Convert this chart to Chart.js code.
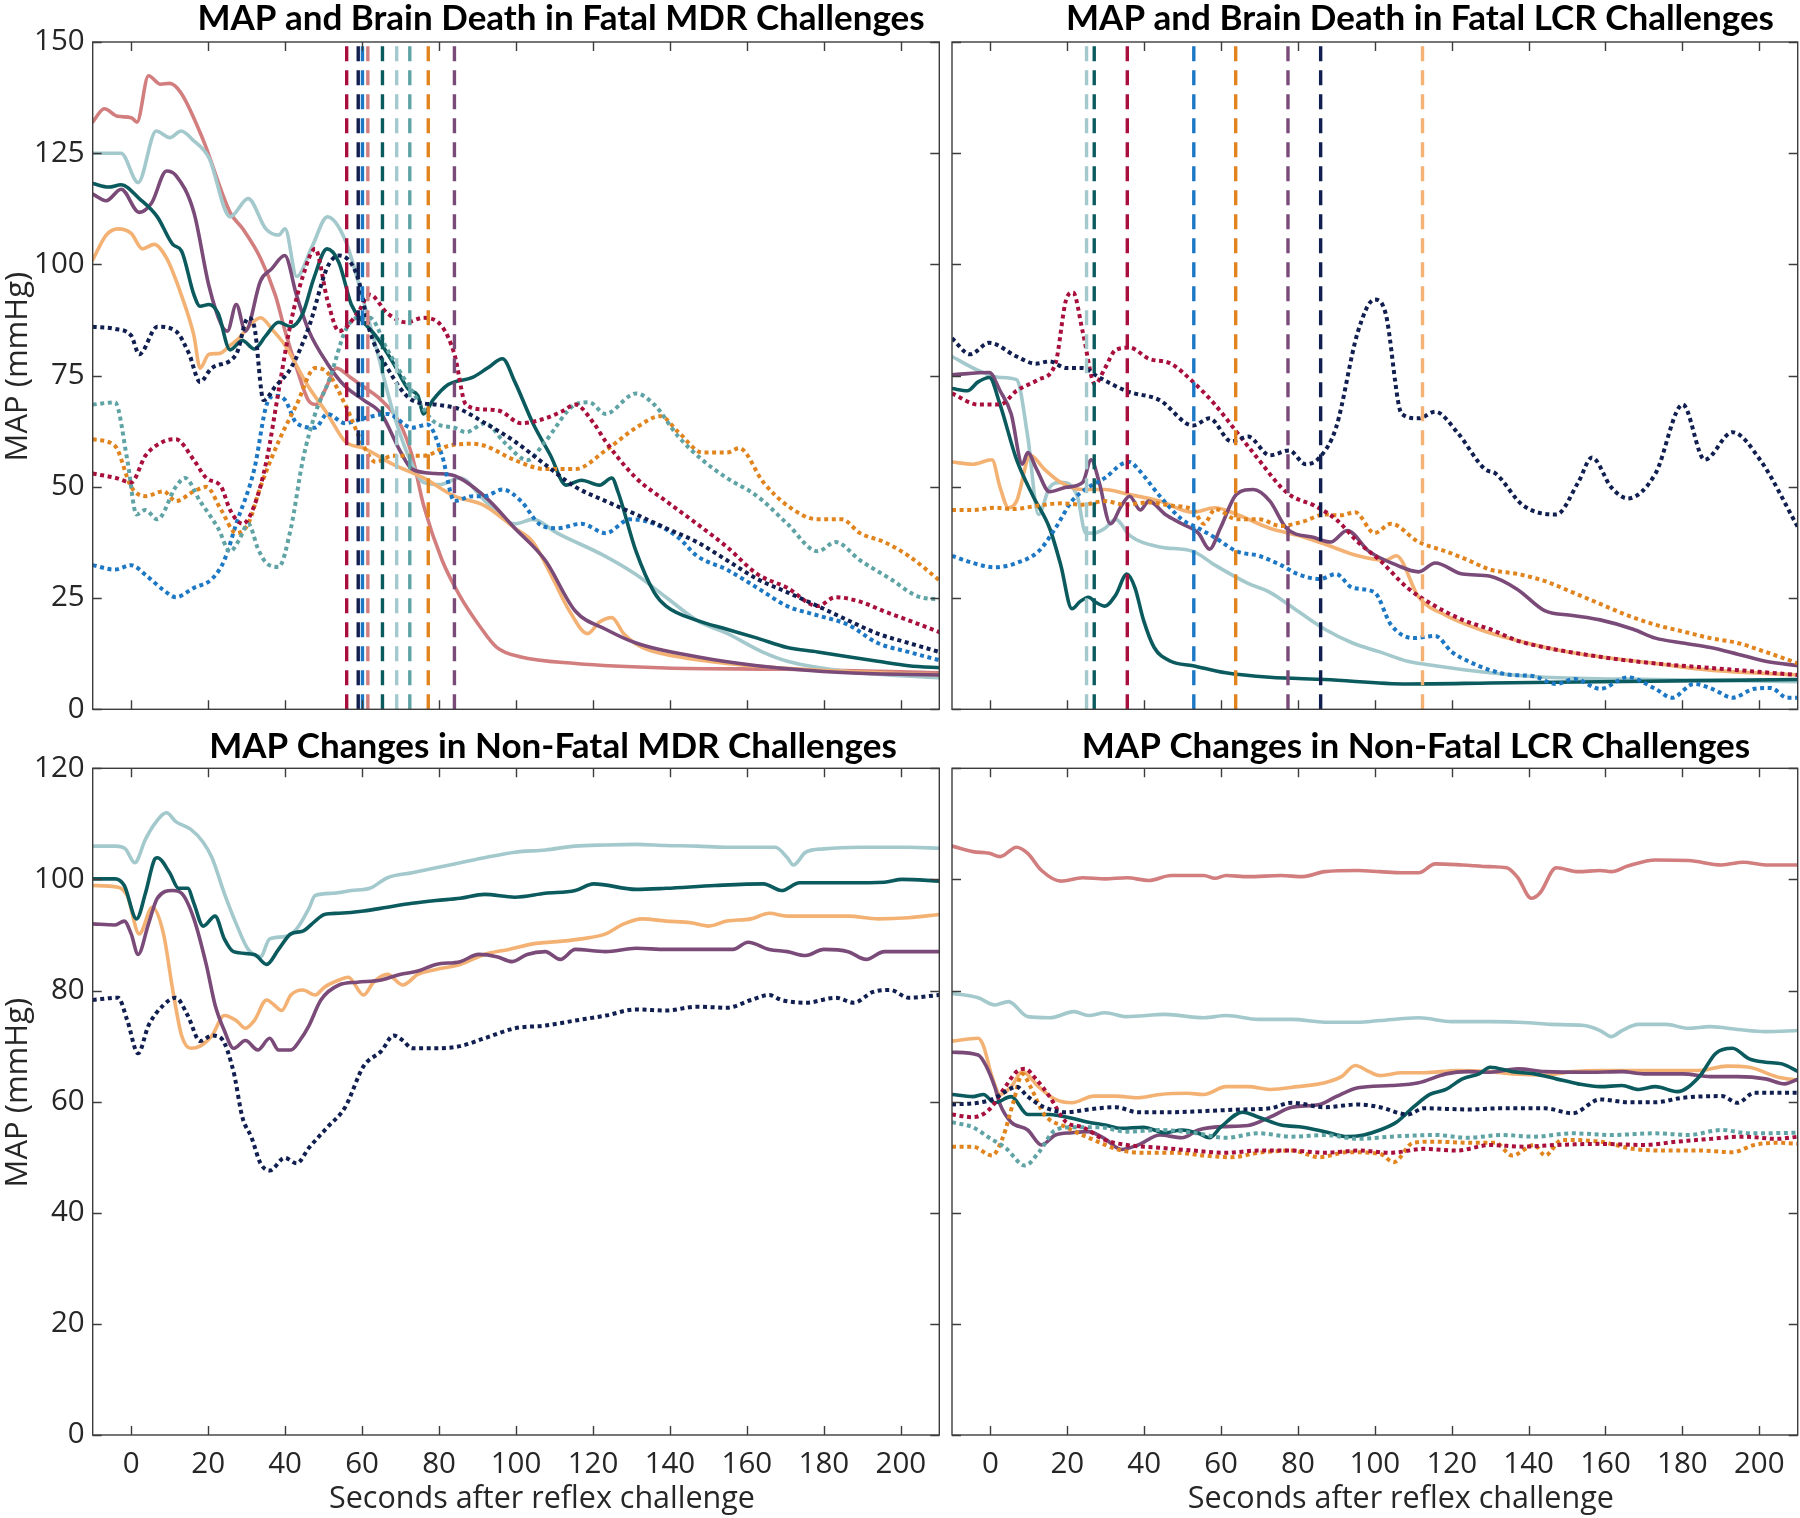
<!DOCTYPE html>
<html>
<head>
<meta charset="utf-8">
<script src="https://cdn.jsdelivr.net/npm/chart.js@4.4.1/dist/chart.umd.min.js"></script>
<style>
  html, body { margin: 0; padding: 0; background: #fff; }
  #wrap { position: relative; width: 1800px; height: 1518px; }
  #wrap canvas { position: absolute; left: 0; top: 0; }
</style>
</head>
<body>
<div id="wrap">
  <canvas id="cTL" width="1800" height="1518"></canvas>
  <canvas id="cTR" width="1800" height="1518"></canvas>
  <canvas id="cBL" width="1800" height="1518"></canvas>
  <canvas id="cBR" width="1800" height="1518"></canvas>
</div>
<script>
/** MAP traces around reflex challenges (MDR / LCR, fatal vs non-fatal) */

// ---- axes ----
const xTicks = [0, 20, 40, 60, 80, 100, 120, 140, 160, 180, 200];
const yTicksFatal = [0, 25, 50, 75, 100, 125, 150];
const yTicksNonFatal = [0, 20, 40, 60, 80, 100, 120];
const xTitle = 'Seconds after reflex challenge';
const yTitle = 'MAP (mmHg)';

const titles = {
  tl: 'MAP and Brain Death in Fatal MDR Challenges',
  tr: 'MAP and Brain Death in Fatal LCR Challenges',
  bl: 'MAP Changes in Non-Fatal MDR Challenges',
  br: 'MAP Changes in Non-Fatal LCR Challenges'
};

const COL = {
  rose: '#D27D7E', lightTeal: '#A3C9CD', darkTeal: '#0B5A5E', purple: '#7A4A78',
  lightOrange: '#F3B273', navy: '#101E50', crimson: '#A80F3C', medTeal: '#5FA3A5',
  orange: '#E2841E', blue: '#1C78C4'
};

// ---- Fatal MDR ----
const mdrFatalRose = [[-10,132],[-7,135],[-3.5,133.3],[0,133],[1.5,132],[4.5,142.4],[7.6,140.5],[10,140.7],[13,138.5],[18.7,128],[25.7,111.7],[29,108],[33.6,101.4],[37.5,93],[40,85],[43,76.7],[46,69.5],[48,68.5],[50.5,72],[53.3,76.7],[57,74.6],[60.4,72.5],[65,69.5],[69.8,64.3],[73,57],[76,45.8],[80.8,33.5],[85.6,25.2],[90.3,19],[95,13.9],[101,11.8],[115.5,10.3],[139,9.3],[170,9],[211,8.2]];
const mdrFatalLightTeal = [[-10,125],[-2.6,125],[1.8,118.4],[6.5,130],[10,128.5],[13,130],[16,128],[20.2,124],[25.7,110.7],[30.4,114.8],[35,108],[38.3,106.6],[40,108],[43,97.3],[47,104],[51,110.7],[55.6,105.5],[60.3,92],[63.5,81.8],[68.2,66.4],[73,55],[76,51],[80,50.5],[85.5,52],[92,46.8],[99.7,41.7],[104.4,42.7],[110.7,39.6],[123,34.5],[131,30.4],[139,25.2],[147,20],[155,17],[164,12.9],[170.5,10.8],[186,8.5],[211,7]];
const mdrFatalDarkTeal = [[-10,118.2],[-5.8,117.4],[-2.6,117.9],[2.1,114.8],[6.8,110.7],[10.8,104.5],[13.1,103],[16.3,93.2],[17.9,90.6],[20.2,91],[22.6,89],[25.7,80.8],[28.9,82.9],[32,81],[35,84],[38.3,87],[41.5,86],[44.6,89],[47.5,97],[50.9,103.5],[54,100.4],[57.2,91],[60.4,87],[63.5,84],[68.2,77.7],[72,72],[74.5,70.5],[76,66.4],[78.4,69.5],[82.4,73],[88.7,74.6],[92.6,76.7],[96.5,78.8],[99.7,73.6],[104.4,64.3],[109,57],[113,50.4],[117,51.5],[121.7,50.4],[124.9,52],[126.5,48.9],[131.2,35.5],[135.9,26.3],[139,23.2],[147,20],[154.8,18],[162.7,16],[170.5,13.9],[178.4,12.9],[186.3,11.8],[194,10.8],[202,9.8],[211,9.3]];
const mdrFatalPurple = [[-10,115.8],[-6.5,114.3],[-2.6,116.9],[2.1,111.7],[5.3,113.8],[9.2,121],[11.6,120],[16.3,111.7],[20.2,95.2],[23.4,86.5],[25,85],[27.3,91],[29.7,85],[33.6,96.3],[36.5,99],[39.9,102],[43,93],[46.2,85],[51,77.7],[55.6,72.6],[60.4,69.5],[65,66.4],[69.8,58.2],[73,54],[79.2,53],[84,52.5],[91.8,47.9],[99.7,40.7],[107.6,33.5],[115.4,22.1],[123.3,18],[131.2,14.9],[147,11.8],[162.7,9.8],[186,8.2],[211,7.7]];
const mdrFatalLightOrange = [[-10,101],[-6.5,106.6],[-3.4,108],[0,107],[2.9,103.5],[6,104.5],[9.2,101.4],[13,93.2],[16.3,84],[17.9,76.7],[20.2,79.8],[23,80],[25.7,81.8],[28,83.4],[30.5,86],[33.6,88],[37,85],[40,81.8],[46,72.6],[51,66.4],[55.6,60.2],[60.4,58.7],[68.2,55],[76,52],[84,47.9],[91.8,45.8],[99.7,40.7],[104.4,37.6],[109,30.4],[113.9,22.1],[118.6,17],[121.7,19.6],[124.9,20.6],[128,17],[132.8,13.9],[142.2,11.8],[154.8,10.3],[178.4,8.8],[211,7.7]];
const mdrFatalNavy = [[-10,86],[-4.2,85.5],[0,84],[2.1,79.8],[6.8,86],[11.6,85],[15,80],[17.9,73.6],[20.9,76.7],[27.3,79.8],[30.4,88],[32,86],[34.4,69.5],[37.5,72.6],[41.5,76.7],[46.2,86],[51,99.4],[54,102],[58.8,97.3],[62,85],[66.6,76.7],[73,69.5],[79.2,68.5],[85.5,67.4],[92,64.3],[99.7,60.2],[107.6,55],[115.4,50],[123.3,46.8],[131.2,43.8],[139,40.7],[147,37.6],[154.8,33.5],[162.7,29.3],[170.5,26.3],[178.4,23.2],[186.3,20],[194,17],[202,14.9],[210,12.9]];
const mdrFatalCrimson = [[-10,53],[-4,52],[0,51],[3.7,57],[8.4,60.2],[11.6,60.7],[16.3,56],[19.5,52],[23.4,50],[25.7,44.8],[29,41.7],[32,45.8],[35.2,56],[38.3,71.5],[41.5,87],[44.6,97.3],[47.8,103.5],[51,92],[54,85],[58.8,89],[62,93.2],[66.6,89],[71.4,87],[76,88],[80.8,86],[84,79.8],[87,68.5],[91.8,67.4],[96,67],[101.3,64.3],[107.6,65.4],[112,67],[115.4,68.5],[120.2,64.3],[123.3,60.2],[131.2,52],[139,46.8],[147,41.7],[154.8,36.5],[162.7,30.4],[170.5,27.3],[178.4,23.2],[183,25.2],[189.4,24.2],[195.7,22],[202,20],[211,17]];
const mdrFatalMedTeal = [[-10,68.5],[-4.2,69],[-1,56],[1.4,43.8],[3.7,44.8],[6.8,42.7],[11.6,50],[14,52],[17.9,46.8],[22.6,40.7],[25.7,35.5],[28,38],[30.4,41.7],[33,36],[35,33],[38.3,32],[41.5,40.7],[44.6,56],[47.8,66.4],[51.7,74.6],[55.6,85],[58.8,88],[62,88],[66.6,80.8],[73,71.5],[79.2,64.3],[84,63.3],[87,62.3],[92,64.3],[97,60],[103,56],[107.6,60.2],[115.4,68.5],[119,69],[123.3,66.4],[129.6,70.5],[131.2,71],[135.9,68.5],[142.2,61.3],[148.5,56],[154.8,52],[162.7,47.9],[170.5,41.7],[178.4,35.5],[183,37.6],[189.4,33.5],[197.3,29.3],[205,25.2],[211,24.7]];
const mdrFatalOrange = [[-10,60.7],[-4.2,59.2],[0,50],[3.7,47.9],[8.4,49],[11.6,46.8],[16.3,49],[19.5,50],[23.4,44.8],[27.3,39.6],[30.4,41.7],[33.6,50],[38.3,60.2],[43,68.5],[47.8,76.7],[51,75.7],[55.6,68.5],[60.4,59.2],[63.5,55.6],[68,57],[76,57],[82.4,59.2],[88.7,59.7],[92,59.2],[99.7,56],[107.6,54],[115.4,54],[123.3,58.2],[131.2,63.3],[137.5,65.9],[142.2,62.3],[148.5,57.7],[154.8,57.7],[158,58.7],[164.3,51],[170.5,45.8],[178.4,42.7],[184.7,42.7],[189.4,39.6],[195.7,37.6],[202,34.5],[211,28.3]];
const mdrFatalBlue = [[-10,32.4],[-4.2,31.4],[0,32.4],[4,30],[8.4,26.8],[11.6,25.2],[16.3,27.3],[21,29.3],[24.2,33.5],[27.3,41.7],[32,54],[35.2,68.5],[37.5,70.5],[40,69.5],[43,64.3],[47.8,63.3],[51,66.4],[55.6,64.3],[60.4,65.4],[66.6,66.4],[73,63.3],[77,64],[80.8,57],[84,46.8],[88.7,47.9],[91.8,47.9],[96.5,49.4],[101.3,46.8],[106,41.7],[110.7,40.7],[117,41.7],[123.3,39.6],[129.6,42.7],[135.9,41.7],[142.2,38.6],[147,34.5],[154.8,31.4],[162.7,27.3],[170.5,23.2],[178.4,21.1],[186.3,19],[194,14.9],[202,12.9],[211,10.8]];
const mdrDeathTimes = [56, 59, 60.1, 61.5, 65.3, 69, 72.4, 77.2, 84];
const mdrDeathColors = [COL.crimson, COL.navy, COL.blue, COL.rose, COL.darkTeal, COL.lightTeal, COL.medTeal, COL.orange, COL.purple];

// ---- Fatal LCR ----
const lcrFatalNavy = [[-10,83.4],[-5.3,79.8],[-0.3,82.4],[6.8,79.3],[11.8,77.7],[15.4,78.2],[19.7,76.7],[24,76.7],[28.3,74.6],[35.5,71.5],[44,69.5],[52.7,63.8],[57,65.4],[62.7,60.2],[67,61.3],[72.7,57.1],[77.7,58.2],[82,55.1],[85.6,56.6],[89.9,63.3],[95.6,84.9],[99.9,92.1],[102.8,89],[107,66.4],[111.4,65.4],[115.7,66.9],[121.4,62.3],[128.6,54],[131.4,53],[138.6,45.8],[147.2,43.8],[152.9,51],[156.5,56.6],[161.5,49.9],[165.8,47.4],[173,53],[180.1,68.5],[185.8,56.1],[193,62.3],[200.2,56.1],[210.2,40.7]];
const lcrFatalCrimson = [[-10,71],[-3.2,68.5],[2.5,68.5],[6.8,71.6],[12.5,74.1],[16.9,77.7],[19.7,92.1],[21.5,93.7],[24,84.9],[27.2,73.1],[29.8,76.7],[32.6,80.8],[36.2,81.3],[41.2,78.8],[46.9,77.7],[52.7,73.6],[58.4,68.5],[64.1,62.3],[69.8,56.1],[75.6,49.9],[78.4,47.9],[84.2,45.8],[89.9,42.7],[95.6,37.6],[101.3,33.5],[108.5,27.3],[115.7,23.2],[122.8,20.1],[130,18],[137.2,15.4],[144.3,13.9],[158.6,11.8],[173,10.3],[187.3,9.3],[210.2,7.7]];
const lcrFatalDarkTeal = [[-10,72.1],[-6,71.6],[-3.2,73.6],[-0.3,74.6],[2.5,68.5],[6.8,56.1],[11.1,47.9],[15.4,40.7],[18.3,32.4],[21.2,22.6],[23.3,24.2],[25.5,25.2],[27.5,24],[29.8,23.2],[32.6,25.7],[35.5,30.4],[37.6,27.3],[39.8,20.1],[42.6,13.9],[46.9,10.8],[52.7,9.8],[61.2,8.2],[72.7,7.2],[87,6.7],[108.5,5.7],[130,5.9],[158.6,6.2],[210.2,6.7]];
const lcrFatalPurple = [[-10,75.2],[-0.3,75.7],[2.5,71.6],[5.4,66.4],[8.3,55.1],[9.7,57.7],[12,54],[15.4,48.9],[19.7,49.9],[24,51],[26.2,56.1],[28.3,51],[31.2,41.7],[34.1,45.8],[36.2,47.9],[39,44.8],[41.2,46.8],[45.5,43.8],[49.8,41.7],[54.1,39.6],[57,36],[59.8,40.7],[64.1,48.4],[68.4,49.4],[72.7,46.8],[77,40.7],[84.2,38.6],[88.5,37.6],[92.8,40.2],[98.5,35.5],[105.7,32.4],[111.4,30.9],[115.7,32.9],[122.8,30.4],[130,29.9],[137,27],[144.3,22.1],[151.4,21.1],[158.6,20.1],[167.2,18],[173,16],[180.1,14.9],[187.3,13.9],[194.4,12.4],[201.6,10.8],[210.2,9.8]];
const lcrFatalLightTeal = [[-10,79.3],[-3.2,76.2],[2.5,74.6],[6.8,74.1],[9.7,61.3],[12.5,43.8],[15.4,49.9],[18.3,51],[22.6,47.9],[24.8,39.6],[26.9,39.6],[29.8,40.7],[32.6,42.7],[36.2,39.1],[44.1,36.5],[52.7,35.5],[58.4,32.4],[67,28.3],[72.7,26.3],[79.9,22.1],[87,18],[94.2,14.9],[101.3,12.9],[108.5,10.8],[115.7,9.8],[130,8.2],[144.3,7.2],[173,6.7],[210.2,6.2]];
const lcrFatalLightOrange = [[-10,55.6],[-4.6,55.1],[0.4,56.1],[2.5,49.9],[4.7,45.3],[6.8,46.8],[10.4,57.1],[14,54],[18.3,51],[24,49.4],[29.8,49.4],[35.5,48.4],[44,46.8],[52.7,44.3],[58.4,45.3],[64.1,43.8],[72.7,40.7],[79.9,39.1],[87,37.1],[95.6,34.5],[102.8,33.5],[105.6,34.5],[111.4,25.2],[118.5,21.1],[127.1,18],[137.2,15.4],[147.2,13.4],[158.6,11.8],[173,10.3],[187.3,8.8],[210.2,7.7]];
const lcrFatalOrange = [[-10,44.8],[-4.6,44.8],[1.1,45.3],[6,45],[12.5,45.8],[18.3,46.3],[24,46],[29.8,46.8],[35,46],[41,46.5],[46.9,45.8],[52.7,44.8],[55.5,41.7],[58.5,45],[64.1,42.7],[69.8,42.7],[75.6,41.2],[81.3,42.2],[87,43.8],[91,43.6],[94.9,44.3],[99.9,39.6],[104.2,41.7],[111.4,37.6],[118.5,35.5],[124.3,33.5],[130,31.4],[137.2,30.4],[144.3,28.8],[151.4,26.3],[158.6,23.7],[165.8,21.1],[173,19],[180.1,17.5],[187.3,16],[194.4,14.9],[201.6,12.9],[210.2,10.3]];
const lcrFatalBlue = [[-10,34.5],[-4.6,32.9],[1.1,31.9],[6.8,32.9],[12.5,35.5],[16.9,40.7],[21.2,46.8],[25.5,49.9],[29.8,52],[34.1,55.1],[36.2,55.6],[38.4,54],[44.1,47.9],[49.8,42.7],[54.1,40.7],[58.4,38.6],[64.1,35.5],[69.8,34.5],[75.6,32.4],[79.9,30.4],[85.7,29.3],[89.9,30.4],[94.2,27.3],[99.9,26.3],[104.2,19],[110,16],[115.7,16.5],[120,12.9],[124.3,10.8],[130,8.8],[135.7,7.7],[141,7.5],[147.2,5.7],[152,6.8],[158.6,4.6],[165.8,7.2],[173,4.6],[177.3,2.6],[183,5.7],[188,4.5],[193,2.6],[198.7,4.6],[203,4.8],[207.3,2.6],[210.2,2.6]];
const lcrDeathTimes = [25, 27, 35.6, 52.9, 63.8, 77.4, 85.9, 112.4];
const lcrDeathColors = [COL.lightTeal, COL.darkTeal, COL.crimson, COL.blue, COL.orange, COL.purple, COL.navy, COL.lightOrange];

// ---- Non-fatal MDR ----
const mdrLiveLightTeal = [[-10,106],[-4.2,106],[-1.5,105.5],[0.9,103],[3.7,107.2],[6,109.9],[9.2,112],[11.6,110.4],[15.5,109],[18.7,106.7],[21,103.9],[24.2,97.5],[27.3,92],[30.4,87.4],[33.6,86.1],[36,89.3],[39.9,89.7],[43,91.1],[46.2,94.8],[47.8,97.1],[52.5,97.5],[57.2,98],[62,98.4],[66.6,100.3],[73,101.2],[79.2,102.1],[85.5,103],[91.8,103.9],[99.7,104.9],[107.6,105.3],[115.4,106],[123.3,106.2],[131.2,106.3],[139,106.1],[147,106],[154.8,105.8],[162.7,105.8],[167.4,105.8],[170.5,103.9],[172.1,102.6],[175.3,104.9],[180,105.5],[189.4,105.8],[202,105.8],[210,105.6]];
const mdrLiveDarkTeal = [[-10,100.1],[-4.2,100.1],[-1.8,98.9],[1.4,92.9],[3.7,97.5],[6,103.5],[6.8,103.9],[10,101.2],[12.3,98.4],[14.7,98.4],[16.3,95.7],[18.7,91.6],[21.8,93.4],[24.2,89.3],[26.6,87],[32,86.5],[35.2,84.7],[38.3,87.4],[41.5,90.2],[44.6,90.7],[47.8,92.5],[50.2,93.7],[54,93.9],[60.4,94.3],[66.6,95],[73,95.7],[79.2,96.2],[85.5,96.6],[91.8,97.3],[99.7,96.8],[107.6,97.5],[115.4,98],[120.2,99.2],[131.2,98.2],[139,98.4],[151.7,98.9],[164.3,99.2],[169,98],[173.7,99.4],[186.3,99.4],[195.7,99.5],[200.4,100],[210,99.7]];
const mdrLiveLightOrange = [[-10,98.9],[-3.4,98.6],[-1,97],[2.1,90.2],[5.5,95],[8.4,90.2],[10.8,80.1],[13.1,71.9],[15.5,69.6],[17.9,70],[21,71.9],[24.2,75.5],[27.3,74.6],[29.7,73.2],[32,74.6],[35.2,78.3],[37,77.5],[39.1,76.4],[41.5,79.2],[44.6,80.1],[47.8,79.2],[50.2,80.6],[54,81.9],[56.4,82.4],[60.4,79.2],[63,81.5],[66.6,82.9],[70.6,81],[74.5,82.9],[79.2,83.8],[85.5,84.7],[91.8,86.5],[98.1,87.4],[104.4,88.4],[110.7,88.8],[117,89.3],[123.3,90.2],[128,92],[132.8,92.9],[139,92.5],[145.4,92.2],[150.1,91.6],[154.8,92.5],[161.1,92.9],[165.8,93.9],[170.5,93.4],[186.3,93.4],[194.1,92.9],[202,93.1],[210,93.7]];
const mdrLivePurple = [[-10,92],[-4.2,91.8],[-1.8,92.5],[0,90.2],[1.8,86.5],[4.5,92],[6.8,96.6],[10.8,98],[13.1,97.5],[16.3,92.9],[19.5,84.7],[21.8,77.4],[24.2,72.8],[26.6,69.6],[29.7,71],[32.9,69.3],[36,71.4],[38.3,69.3],[41.5,69.3],[43.8,71],[46.2,73.7],[49.3,78.3],[54,81],[58.8,81.5],[65,81.9],[69.8,82.9],[74.5,83.5],[79.2,84.7],[85.5,85.2],[90.3,86.5],[95,86.1],[99,85.2],[102.9,86.5],[107.6,87],[111.5,85.6],[115.4,87.4],[123.3,87],[131.2,87.6],[139,87.4],[147,87.4],[156.4,87.4],[160.3,88.7],[165.8,87.4],[170.5,87],[175.3,86.3],[180,87.4],[186.3,87],[191,85.6],[195.7,87],[202,87],[210,87]];
const mdrLiveNavy = [[-10,78.3],[-3.4,78.7],[-1,74.6],[1.8,68.7],[4.5,73.7],[8.4,77.4],[11.6,78.7],[14.7,75.5],[17.9,70.9],[21,71.9],[23.4,71.4],[26.6,65.4],[28.9,57.2],[31.3,53.5],[33.6,48.9],[36,47.6],[39.9,49.9],[43,48.9],[46.2,51.7],[51,55.4],[55.6,59],[60.4,66.4],[65,69.1],[68.2,71.9],[70.6,71],[73,69.6],[79.2,69.6],[85.5,70],[91.8,71.4],[99.7,73.2],[107.6,73.7],[115.4,74.6],[123.3,75.5],[131.2,76.6],[139,76.4],[147,77.1],[154.8,76.9],[161.1,78.3],[165.8,79.2],[169,78.3],[175.3,77.8],[183.1,78.7],[187.8,77.8],[192.6,79.7],[197.3,80.1],[202,78.7],[210,79.2]];

// ---- Non-fatal LCR ----
const lcrLiveRose = [[-10,106],[-4.6,105],[-0.3,104.7],[2.5,104.1],[6.8,105.8],[9.7,104.7],[13.3,101.6],[18.3,99.7],[24,100.3],[29.8,100.1],[35.5,100.3],[41.2,99.8],[47,100.7],[55.5,100.7],[58.4,100.2],[61.3,100.7],[67,100.5],[75.6,100.7],[81.3,100.5],[87,101.4],[95.6,101.6],[101.3,101.4],[107.1,101.2],[111.4,101.2],[115.7,102.8],[122.8,102.6],[130,102.3],[134.3,102.1],[137.2,100.3],[140.7,96.6],[142.9,97.5],[147.2,102.1],[152.9,101.4],[158.6,101.6],[161.5,101.4],[165.8,102.4],[173,103.5],[181.6,103.4],[190.2,102.6],[195.9,103.1],[201.6,102.6],[210.2,102.6]];
const lcrLiveLightTeal = [[-10,79.5],[-3.2,78.7],[1.1,77.4],[4.7,78],[9.7,75.3],[15.4,75.1],[21.8,76.2],[25.5,75.5],[29.8,76],[35.5,75.3],[45.5,75.7],[55.5,75.1],[61.3,75.5],[69.8,74.8],[78.4,74.8],[87,74.3],[95.6,74.3],[101.3,74.6],[111.4,75.1],[120,74.4],[130,74.4],[140,74.2],[145.8,73.9],[154.4,73.7],[158.6,72.8],[161.5,71.7],[164.3,72.8],[168.6,73.9],[175.8,73.9],[181.6,73.2],[187.3,73.5],[194.4,73],[201.6,72.6],[210.2,72.8]];
const lcrLiveLightOrange = [[-10,70.9],[-3.2,71.4],[-1.8,70],[0.4,64.5],[2.5,61.3],[5.4,62.7],[8.3,65.4],[12.5,62.7],[16.9,60.4],[21.2,59.8],[26.9,61],[32.6,61],[38.4,60.7],[44.1,61.3],[51.2,61.5],[55.5,61.3],[61.3,62.7],[67,62.7],[72.7,62.2],[79.9,62.7],[87,63.4],[91.3,64.5],[94.9,66.5],[98.5,65.4],[101.3,64.7],[107.1,65.2],[112.8,65.2],[121.4,65.6],[130,65.4],[135.8,65],[144.3,64.8],[151.4,65.4],[158.6,65.6],[173,65.6],[184.4,65.6],[191.6,66.4],[197.4,66.2],[204.5,64.5],[210.2,63.8]];
const lcrLivePurple = [[-10,68.9],[-3.2,68.4],[-1.1,66.4],[1.1,62.7],[2.5,59.5],[5.4,56.3],[9.7,54.9],[13.3,52.2],[16.9,54],[21.2,54.4],[25.5,54.6],[29.8,53.3],[34.1,51.4],[38.4,52.2],[44.1,54],[49.8,53.5],[54.1,54.9],[60,55.5],[67,55.7],[72.7,57.2],[78.4,59],[85.6,59.5],[89.9,60.9],[95.6,62.5],[104.2,62.9],[111.4,63.4],[118.5,65],[124.3,65.4],[130,65.3],[137.2,65.9],[144.3,65.4],[155.8,65.3],[164.3,65.4],[170,65],[180.1,65],[187.3,64.5],[194.4,64.5],[201.6,64.1],[206.6,63.2],[210.2,64.1]];
const lcrLiveDarkTeal = [[-10,61.3],[-4.6,60.9],[-1.8,61.3],[1.1,59.8],[5.4,60.9],[9.7,57.7],[15.4,57.7],[21.2,57],[25.5,56.3],[29.8,55.8],[34.1,55.2],[39.8,55.4],[45.5,54.4],[49.8,54.9],[54.1,54.3],[57,53.5],[59.9,55.4],[65.6,58.1],[69.8,57.2],[75.6,55.8],[81.3,55.4],[87,54.6],[92.8,53.7],[97.1,54],[101.3,54.9],[105.6,56.3],[110,59],[114.3,61.3],[118.5,62.2],[122.8,64.1],[127.1,65],[130,66.2],[135.7,65.4],[141.5,65],[147.2,64.1],[152.9,63.2],[158.6,62.7],[164.3,62.9],[168.6,62.2],[173,62.7],[178.7,61.8],[184.4,64.5],[188.7,68.7],[193,69.6],[197.4,67.7],[201.6,67.1],[205.9,66.8],[210.2,65.4]];
const lcrLiveNavy = [[-10,59.5],[-3.2,59.8],[0.4,60.4],[3.9,61.8],[6.8,62.7],[9.7,60.9],[14,59],[19.7,58.1],[25.5,58.6],[32.6,59],[38.4,58.1],[47,58.1],[55.5,58.3],[65.6,58.6],[72.7,58.8],[78.4,59.8],[87,59],[95.6,59.5],[101.3,59],[108.5,57.7],[112.8,58.8],[124.3,58.6],[132.9,58.8],[144.3,58.8],[151.4,57.9],[158.6,60.4],[165.8,59.9],[173,59.9],[180.1,60.7],[190.2,61],[194.4,59.8],[198.7,61.6],[210.2,61.6]];
const lcrLiveCrimson = [[-10,57.7],[-4.6,57.2],[-0.3,58.6],[3.9,62.7],[6.8,65.4],[9,65.9],[11.8,64.1],[15.4,60.9],[19.7,56.3],[24,55.4],[29.8,53.1],[35.5,52.2],[44.1,51.7],[52.7,51.2],[61.3,50.8],[69.8,51.2],[78.4,51.2],[87,50.8],[95.6,51.2],[104.2,50.8],[112.8,51.5],[121.4,51.2],[130,52.2],[138.6,51.9],[147.2,52.2],[158.6,52.4],[170,52.2],[178.7,52.8],[187.3,53.3],[195.9,53.7],[204.5,53.3],[210.2,53.7]];
const lcrLiveMedTeal = [[-10,56.3],[-4.6,55.4],[-0.3,53.5],[3.9,51.7],[9,48.5],[12.5,50.8],[16.9,54.9],[21.2,55.4],[28.3,55.4],[35.5,54.6],[44.1,54.9],[52.7,54.4],[61.3,53.5],[69.8,54.3],[78.4,53.7],[87,54],[95.6,53.3],[104.2,53.7],[115.7,54],[124.3,53.5],[132.9,54],[141.5,53.7],[151.4,54.3],[161.5,54],[173,54.3],[181.6,54],[190.2,54.9],[197.4,54.3],[210.2,54.4]];
const lcrLiveOrange = [[-10,51.9],[-4.6,51.9],[0.4,50.3],[3.2,53.5],[6,60],[8.3,65],[10.4,62.7],[14,57.7],[19.7,55.4],[26.9,53.1],[34.1,51.2],[41.2,50.8],[48.4,50.8],[55.5,50.3],[62.7,50],[69.8,50.8],[78.4,51.2],[85.6,50],[92.8,50.9],[101.3,50.6],[104.9,49.1],[110,52.6],[115.7,52.8],[124.3,52.6],[131.4,52.6],[135.7,50.3],[141.5,52.2],[144.3,50.3],[148.6,53.1],[158.6,52.8],[167.2,51.5],[175.8,51.2],[184.4,51.2],[193,50.9],[198.7,52.2],[204.5,52.6],[210.2,52.4]];

// ---- dataset helpers ----
function solid(data, color) {
  return { data, borderColor: color, borderWidth: 3.6, pointRadius: 0, fill: false,
           cubicInterpolationMode: 'monotone', borderJoinStyle: 'round', borderCapStyle: 'round' };
}
function dotted(data, color) {
  return { data, borderColor: color, borderWidth: 4, pointRadius: 0, fill: false,
           cubicInterpolationMode: 'monotone', borderDash: [4, 3.6] };
}
function deathLines(times, colors, yMax) {
  return times.map((t, i) => ({
    data: [[t, 0], [t, yMax]], borderColor: colors[i], borderWidth: 3.4,
    borderDash: [15, 9], pointRadius: 0, fill: false, tension: 0
  }));
}

const FAMILY = "'Open Sans', 'Noto Sans', sans-serif";
const TICK_FONT = { family: FAMILY, size: 29.5 };
const TXT = '#262626';

// box with inward ticks on all four sides, panel title and axis titles
const matlabAxes = {
  id: 'matlabAxes',
  afterDraw(chart, args, o) {
    const { ctx, chartArea: a, scales: { x, y } } = chart;
    ctx.save();
    ctx.strokeStyle = '#3c3c3c';
    ctx.lineWidth = 1.4;
    ctx.beginPath();
    xTicks.forEach(v => {
      const px = Math.round(x.getPixelForValue(v)) + 0.5;
      ctx.moveTo(px, a.bottom); ctx.lineTo(px, a.bottom - 9);
      ctx.moveTo(px, a.top); ctx.lineTo(px, a.top + 9);
    });
    o.yTicks.forEach(v => {
      const py = Math.round(y.getPixelForValue(v)) + 0.5;
      ctx.moveTo(a.left, py); ctx.lineTo(a.left + 9, py);
      ctx.moveTo(a.right, py); ctx.lineTo(a.right - 9, py);
    });
    ctx.stroke();
    ctx.strokeRect(a.left, a.top, a.right - a.left, a.bottom - a.top);

    ctx.fillStyle = '#000';
    ctx.font = "bold 35px Lato, 'Open Sans', sans-serif";
    ctx.textAlign = 'center';
    ctx.textBaseline = 'alphabetic';
    ctx.fillText(o.title, o.titleX, o.titleY);

    ctx.fillStyle = TXT;
    ctx.textBaseline = 'middle';
    if (o.showX) {
      ctx.font = "30.5px " + FAMILY;
      ctx.fillText(xTitle, (a.left + a.right) / 2 + 26, 1499);
    }
    if (o.showY) {
      ctx.font = "31px " + FAMILY;
      ctx.translate(18, (a.top + a.bottom) / 2 - 9);
      ctx.rotate(-Math.PI / 2);
      ctx.fillText(yTitle, 0, 0);
    }
    ctx.restore();
  }
};

function makePanel(id, p) {
  new Chart(document.getElementById(id), {
    type: 'line',
    data: { datasets: [...deathLines(p.deaths || [], p.deathColors || [], p.yMax), ...p.series] },
    plugins: [matlabAxes],
    options: {
      responsive: false,
      animation: false,
      events: [],
      layout: { padding: p.padding },
      plugins: {
        legend: { display: false },
        tooltip: { enabled: false },
        matlabAxes: { yTicks: p.yTicks, title: p.title, titleX: p.titleX, titleY: p.titleY, showX: p.xLabels, showY: p.yLabels }
      },
      scales: {
        x: {
          type: 'linear', min: -10, max: 210,
          afterBuildTicks: s => { s.ticks = xTicks.map(v => ({ value: v })); },
          grid: { display: false, drawTicks: false },
          border: { display: false },
          ticks: { display: p.xLabels, font: TICK_FONT, color: TXT, padding: 12, maxRotation: 0, autoSkip: false },
          afterFit: s => { s.height = p.xHeight; s.paddingLeft = 0; s.paddingRight = 0; }
        },
        y: {
          type: 'linear', min: 0, max: p.yMax,
          display: p.yLabels,
          afterBuildTicks: s => { s.ticks = p.yTicks.map(v => ({ value: v })); },
          grid: { display: false, drawTicks: false },
          border: { display: false },
          ticks: { font: TICK_FONT, color: TXT, padding: 8, autoSkip: false },
          afterFit: s => { s.width = p.yWidth; s.paddingTop = 0; s.paddingBottom = 0; }
        }
      }
    }
  });
}

// plot frames (page pixels): left 92.7-939.3, right 952-1797.7; top 42-709.3, bottom 768.3-1435
makePanel('cTL', {
  title: titles.tl, titleX: 561, titleY: 30, yMax: 150, yTicks: yTicksFatal,
  xLabels: false, xHeight: 0, yLabels: true, yWidth: 92.7,
  padding: { left: 0, top: 42, right: 1800 - 939.3, bottom: 1518 - 709.3 },
  deaths: mdrDeathTimes, deathColors: mdrDeathColors,
  series: [
    dotted(mdrFatalNavy, COL.navy), dotted(mdrFatalCrimson, COL.crimson), dotted(mdrFatalMedTeal, COL.medTeal),
    dotted(mdrFatalOrange, COL.orange), dotted(mdrFatalBlue, COL.blue),
    solid(mdrFatalDarkTeal, COL.darkTeal), solid(mdrFatalPurple, COL.purple), solid(mdrFatalLightOrange, COL.lightOrange),
    solid(mdrFatalLightTeal, COL.lightTeal), solid(mdrFatalRose, COL.rose)
  ]
});

makePanel('cTR', {
  title: titles.tr, titleX: 1420, titleY: 30, yMax: 150, yTicks: yTicksFatal,
  xLabels: false, xHeight: 0, yLabels: false, yWidth: 0,
  padding: { left: 952, top: 42, right: 1800 - 1797.7, bottom: 1518 - 709.3 },
  deaths: lcrDeathTimes, deathColors: lcrDeathColors,
  series: [
    dotted(lcrFatalNavy, COL.navy), dotted(lcrFatalCrimson, COL.crimson), dotted(lcrFatalOrange, COL.orange),
    dotted(lcrFatalBlue, COL.blue),
    solid(lcrFatalDarkTeal, COL.darkTeal), solid(lcrFatalPurple, COL.purple), solid(lcrFatalLightOrange, COL.lightOrange),
    solid(lcrFatalLightTeal, COL.lightTeal)
  ]
});

makePanel('cBL', {
  title: titles.bl, titleX: 553, titleY: 758, yMax: 120, yTicks: yTicksNonFatal,
  xLabels: true, xHeight: 83, yLabels: true, yWidth: 92.7,
  padding: { left: 0, top: 768.3, right: 1800 - 939.3, bottom: 0 },
  series: [
    dotted(mdrLiveNavy, COL.navy),
    solid(mdrLiveDarkTeal, COL.darkTeal), solid(mdrLivePurple, COL.purple), solid(mdrLiveLightOrange, COL.lightOrange),
    solid(mdrLiveLightTeal, COL.lightTeal)
  ]
});

makePanel('cBR', {
  title: titles.br, titleX: 1416, titleY: 758, yMax: 120, yTicks: yTicksNonFatal,
  xLabels: true, xHeight: 83, yLabels: false, yWidth: 0,
  padding: { left: 952, top: 768.3, right: 1800 - 1797.7, bottom: 0 },
  series: [
    dotted(lcrLiveNavy, COL.navy), dotted(lcrLiveCrimson, COL.crimson), dotted(lcrLiveMedTeal, COL.medTeal),
    dotted(lcrLiveOrange, COL.orange),
    solid(lcrLiveDarkTeal, COL.darkTeal), solid(lcrLivePurple, COL.purple), solid(lcrLiveLightOrange, COL.lightOrange),
    solid(lcrLiveLightTeal, COL.lightTeal), solid(lcrLiveRose, COL.rose)
  ]
});
</script>
</body>
</html>
